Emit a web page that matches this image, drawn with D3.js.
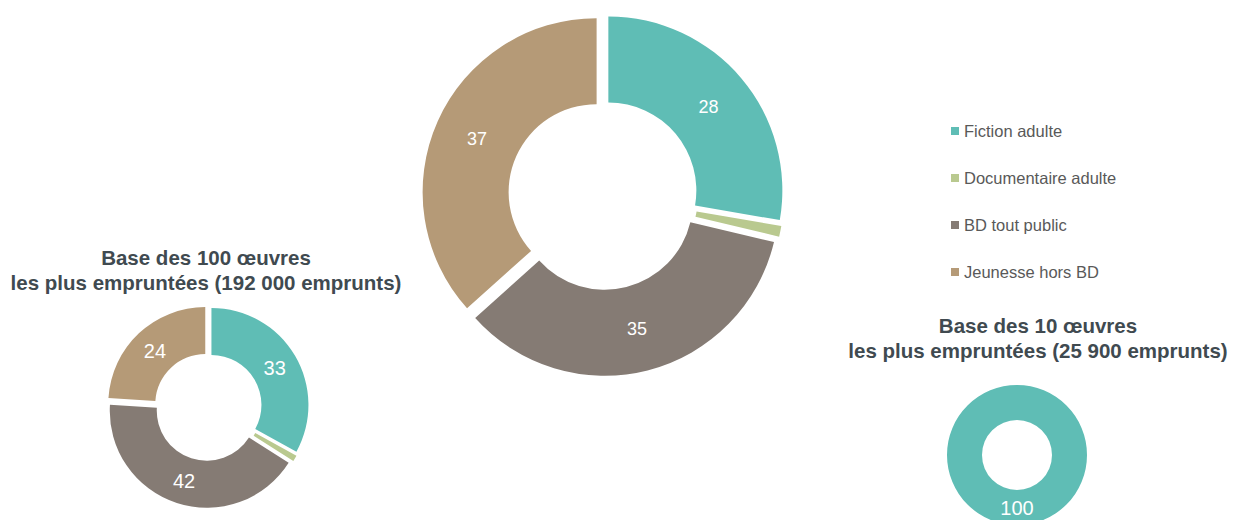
<!DOCTYPE html>
<html>
<head>
<meta charset="utf-8">
<script src="https://cdn.jsdelivr.net/npm/d3@7"></script>
<style>
  body { margin: 0; background: #fff; }
  svg { display: block; font-family: "Liberation Sans", Arial, sans-serif; }
</style>
</head>
<body>
<div id="chart-area"></div>
<script>
// categories and colours
var categories = ["Fiction adulte", "Documentaire adulte", "BD tout public", "Jeunesse hors BD"];
var colors = ["#5fbdb5", "#b9c98f", "#857b74", "#b59a77"];

// share of loans (%) for each base
var valuesAll = [28, 1, 35, 37];      // big donut (all loans)
var valuesTop100 = [33, 1, 42, 24];   // 100 most borrowed works
var valuesTop10 = [100, 0, 0, 0];     // 10 most borrowed works

var titleTop100 = ["Base des 100 œuvres", "les plus empruntées (192 000 emprunts)"];
var titleTop10 = ["Base des 10 œuvres", "les plus empruntées (25 900 emprunts)"];

var svg = d3.select("#chart-area").append("svg")
    .attr("width", 1239)
    .attr("height", 520);

var color = d3.scaleOrdinal()
    .domain(categories)
    .range(colors);

var pie = d3.pie()
    .sort(null)
    .value(d => d.value);

// draw one donut
function donut(values, cx, cy, rOuter, rInner, explode, fontSize) {
    var data = categories.map((c, i) => ({ name: c, value: values[i] }));
    var arcs = pie(data).filter(d => d.value > 0);
    var arc = d3.arc().innerRadius(rInner).outerRadius(rOuter);
    var g = svg.append("g").attr("transform", `translate(${cx},${cy})`);

    var slice = g.selectAll("g.slice")
        .data(arcs)
        .enter()
        .append("g")
        .attr("class", "slice")
        .attr("transform", d => {
            if (arcs.length < 2) return null;
            var a = (d.startAngle + d.endAngle) / 2;
            return `translate(${Math.sin(a) * explode},${-Math.cos(a) * explode})`;
        });

    slice.append("path")
        .attr("d", arc)
        .attr("fill", d => color(d.data.name));

    slice.filter(d => d.value >= 5)
        .append("text")
        .attr("transform", d => `translate(${arc.centroid(d)})`)
        .attr("text-anchor", "middle")
        .attr("dy", "0.36em")
        .attr("fill", "#fff")
        .attr("font-size", fontSize + "px")
        .text(d => d.value);
}

donut(valuesAll, 603, 195, 174, 88, 7, 18);
donut(valuesTop100, 208, 407, 97, 50, 4, 20);
donut(valuesTop10, 1017, 455, 70, 35, 0, 20);

// titles
function title(lines, x, y) {
    svg.append("text")
        .attr("x", x)
        .attr("y", y)
        .attr("text-anchor", "middle")
        .attr("font-size", "20.5px")
        .attr("font-weight", "bold")
        .attr("fill", "#404a50")
        .selectAll("tspan")
        .data(lines)
        .enter()
        .append("tspan")
        .attr("x", x)
        .attr("dy", (d, i) => i ? 25 : 0)
        .text(d => d);
}
title(titleTop100, 206, 265);
title(titleTop10, 1038, 333);

// legend
var legend = svg.selectAll("g.legend")
    .data(categories)
    .enter()
    .append("g")
    .attr("class", "legend")
    .attr("transform", (d, i) => `translate(951,${131 + i * 47})`);

legend.append("rect")
    .attr("x", 0)
    .attr("y", -4)
    .attr("width", 8)
    .attr("height", 8)
    .attr("fill", d => color(d));

legend.append("text")
    .attr("x", 13)
    .attr("dy", "0.36em")
    .attr("font-size", "16.5px")
    .attr("fill", "#595959")
    .text(d => d);
</script>
</body>
</html>
